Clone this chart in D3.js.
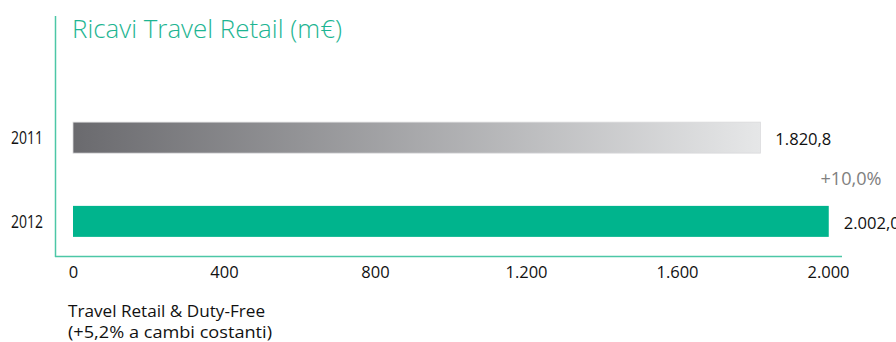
<!DOCTYPE html>
<html><head><meta charset="utf-8">
<script src="https://cdn.jsdelivr.net/npm/d3@7"></script>
<style>body{margin:0;background:#fff}svg{display:block}text{font-family:"Open Sans","Lato",sans-serif}</style>
</head><body>
<svg id="c" width="896" height="342"></svg>
<script>
const categories = ["2011", "2012"];
const values = [1820.8, 2002.0];
const valueLabels = ["1.820,8", "2.002,0"];
const tickValues = [0, 400, 800, 1200, 1600, 2000];
const tickLabels = ["0", "400", "800", "1.200", "1.600", "2.000"];
const title = "Ricavi Travel Retail (m€)";
const growthLabel = "+10,0%";
const footnote = ["Travel Retail & Duty-Free", "(+5,2% a cambi costanti)"];

const svg = d3.select("#c");
const x = d3.scaleLinear().domain([0, 2000]).range([73, 828]);
const y = d3.scaleBand().domain(categories).range([97, 262]).paddingInner(0.63).paddingOuter(0.3);

const defs = svg.append("defs");
const g = defs.append("linearGradient").attr("id", "gray").attr("x1", "0").attr("x2", "1");
g.append("stop").attr("offset", "0").attr("stop-color", "#6a6a6e");
g.append("stop").attr("offset", "1").attr("stop-color", "#e6e7e8");

// axis lines
const axisColor = "#4cc7a6";
svg.append("line").attr("x1", 55.5).attr("x2", 55.5).attr("y1", 16).attr("y2", 257).attr("stroke", axisColor).attr("stroke-width", 1.5);
svg.append("line").attr("x1", 55).attr("x2", 842).attr("y1", 256.5).attr("y2", 256.5).attr("stroke", axisColor).attr("stroke-width", 1.5);

// title
svg.append("text").attr("x", 72).attr("y", 37.5).attr("fill", "#1db592")
  .attr("font-size", 26).attr("font-weight", 300).attr("textLength", 270).attr("lengthAdjust", "spacingAndGlyphs").text(title);

// bars
svg.selectAll("rect.bar").data(values).join("rect").attr("class", "bar")
  .attr("x", x(0)).attr("y", (d, i) => y(categories[i]))
  .attr("width", d => x(d) - x(0)).attr("height", y.bandwidth())
  .attr("fill", (d, i) => i === 0 ? "url(#gray)" : "#00b48d")
  .attr("stroke", (d, i) => i === 0 ? "#d9d9db" : "none").attr("stroke-width", 0.8);

// category labels
svg.selectAll("text.cat").data(categories).join("text").attr("class", "cat")
  .attr("x", 43).attr("y", d => y(d) + y.bandwidth() / 2).attr("dy", "0.36em")
  .attr("text-anchor", "end").attr("font-size", 17.5).attr("fill", "#111")
  .attr("textLength", 32).attr("lengthAdjust", "spacingAndGlyphs").text(d => d);

// value labels
svg.selectAll("text.val").data(values).join("text").attr("class", "val")
  .attr("x", d => x(d) + 15).attr("y", (d, i) => y(categories[i]) + y.bandwidth() / 2).attr("dy", "0.42em")
  .attr("font-size", 17).attr("fill", "#111")
  .attr("textLength", 56).attr("lengthAdjust", "spacingAndGlyphs").text((d, i) => valueLabels[i]);

// growth label
svg.append("text").attr("x", 881.5).attr("y", 178).attr("dy", "0.38em").attr("text-anchor", "end")
  .attr("font-size", 17.5).attr("fill", "#808080")
  .attr("textLength", 61).attr("lengthAdjust", "spacingAndGlyphs").text(growthLabel);

// x axis tick labels
const ax = svg.append("g").attr("transform", "translate(0,257)")
  .call(d3.axisBottom(x).tickValues(tickValues).tickFormat((d, i) => tickLabels[i]).tickSize(0).tickPadding(9));
ax.select(".domain").remove();
ax.selectAll("text").attr("font-size", 16.5).attr("fill", "#111").attr("font-family", "'Open Sans', Lato, sans-serif");

// footnote
svg.selectAll("text.foot").data(footnote).join("text").attr("class", "foot")
  .attr("x", 68).attr("y", (d, i) => 316.5 + i * 21.5).attr("font-size", 16).attr("fill", "#111")
  .attr("textLength", (d, i) => i === 0 ? 197 : 204).attr("lengthAdjust", "spacingAndGlyphs").text(d => d);
</script>
</body></html>
